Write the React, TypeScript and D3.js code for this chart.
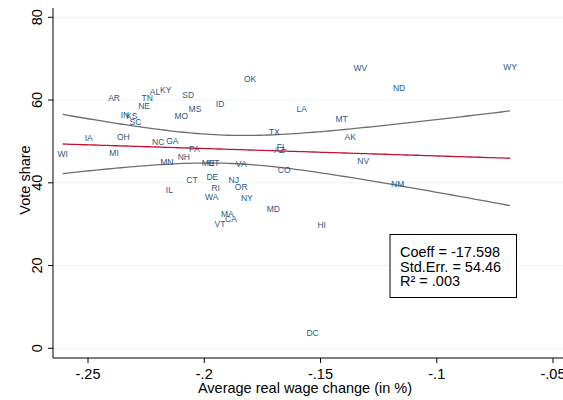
import { scaleLinear, line, mean, sum, extent, range } from "d3";

// state labels, x = average real wage change, y = vote share
const states = ["AR", "TN", "AL", "KY", "SD", "NE", "ID", "MS", "MO", "IN", "KS", "SC", "IA", "OH", "NC", "GA", "PA", "WI", "MI", "NH", "MN", "ME", "UT", "VA", "CT", "DE", "IL", "RI", "WA", "NJ", "OR", "NY", "MA", "CA", "VT", "MD", "OK", "WV", "WY", "ND", "LA", "MT", "TX", "AK", "FL", "AZ", "NV", "CO", "NM", "HI", "DC"];
const wageChange = [-0.2388, -0.2245, -0.2212, -0.2166, -0.2069, -0.2259, -0.1932, -0.204, -0.2099, -0.2341, -0.2312, -0.2296, -0.2497, -0.2348, -0.2198, -0.2137, -0.2043, -0.2609, -0.2388, -0.2088, -0.2161, -0.1983, -0.1959, -0.1841, -0.2053, -0.1965, -0.215, -0.1951, -0.1968, -0.1873, -0.1841, -0.1817, -0.1901, -0.1885, -0.1932, -0.1703, -0.1803, -0.1329, -0.0685, -0.1162, -0.1581, -0.1409, -0.1699, -0.1372, -0.1667, -0.1677, -0.1316, -0.1656, -0.1168, -0.1495, -0.1534];
const voteShare = [60.57, 60.57, 62.02, 62.43, 61.29, 58.63, 59.12, 57.84, 56.22, 56.39, 56.15, 54.77, 50.9, 51.14, 49.86, 50.18, 48.1, 47.03, 47.27, 46.24, 44.91, 44.86, 44.86, 44.47, 40.68, 41.47, 38.26, 38.82, 36.5, 40.68, 39.06, 36.33, 32.46, 31.25, 30.04, 33.67, 65.09, 67.82, 68.06, 62.99, 57.84, 55.42, 52.21, 51.07, 48.58, 47.94, 45.34, 43.09, 39.71, 29.87, 3.77];

const xTicks = [-0.25, -0.2, -0.15, -0.1, -0.05];
const xTickLabels = ["-.25", "-.2", "-.15", "-.1", "-.05"];
const yTicks = [0, 20, 40, 60, 80];
const statsLines = ["Coeff = -17.598", "Std.Err. = 54.46", "R² = .003"];

const W = 563;
const H = 400;
const font = "'Liberation Sans', Arial, Helvetica, sans-serif";

export default function App() {
    const left = 53;
    const top = 8;
    const bottom = 358;

    const x = scaleLinear().domain([-0.25, -0.05]).range([88, 553]);
    const y = scaleLinear().domain([0, 80]).range([348.3, 17.3]);

    // linear fit with 95% CI of the prediction mean
    const n = wageChange.length;
    const mx = mean(wageChange) as number;
    const my = mean(voteShare) as number;
    const sxx = sum(wageChange, (v) => (v - mx) ** 2);
    const sxy = sum(wageChange, (v, i) => (v - mx) * (voteShare[i] - my));
    const b = sxy / sxx;
    const a = my - b * mx;
    const rss = sum(wageChange, (v, i) => (voteShare[i] - (a + b * v)) ** 2);
    const s = Math.sqrt(rss / (n - 2));
    const tCrit = 2.0096;
    const [x0, x1] = extent(wageChange) as [number, number];
    const grid = range(0, 101).map((k) => x0 + ((x1 - x0) * k) / 100);
    const half = (v: number) => tCrit * s * Math.sqrt(1 / n + (v - mx) ** 2 / sxx);

    const fitPath = line<number>().x((v) => x(v)).y((v) => y(a + b * v))(grid) ?? "";
    const upperPath = line<number>().x((v) => x(v)).y((v) => y(a + b * v + half(v)))(grid) ?? "";
    const lowerPath = line<number>().x((v) => x(v)).y((v) => y(a + b * v - half(v)))(grid) ?? "";

    return (
        <div style={{ position: "fixed", left: 0, top: 0 }}>
            <svg width={W} height={H} style={{ display: "block", background: "#fff" }} fontFamily={font}>
                {/* grid */}
                {yTicks.map((t) => (
                    <line key={"g" + t} x1={left} x2={W} y1={y(t)} y2={y(t)} stroke="#eaf2f3" strokeWidth={1} />
                ))}

                {/* CI and fit */}
                <path d={upperPath} fill="none" stroke="#6e6e6e" strokeWidth={1.3} />
                <path d={lowerPath} fill="none" stroke="#6e6e6e" strokeWidth={1.3} />
                <path d={fitPath} fill="none" stroke="#c8102e" strokeWidth={1.3} />

                {/* state labels */}
                {states.map((st, i) => (
                    <text
                        key={st}
                        x={x(wageChange[i])}
                        y={y(voteShare[i])}
                        textAnchor="middle"
                        dominantBaseline="central"
                        fontSize={8.5}
                        fill="#2c5682"
                    >
                        {st}
                    </text>
                ))}

                {/* axes */}
                <line x1={left} x2={left} y1={top} y2={bottom} stroke="#000" strokeWidth={1} />
                <line x1={left} x2={W} y1={bottom} y2={bottom} stroke="#000" strokeWidth={1} />
                {yTicks.map((t) => (
                    <g key={"y" + t}>
                        <line x1={left - 5} x2={left} y1={y(t)} y2={y(t)} stroke="#000" />
                        <text
                            transform={`translate(${left - 11},${y(t)}) rotate(-90)`}
                            textAnchor="middle"
                            fontSize={14.5}
                            fill="#000"
                        >
                            {t}
                        </text>
                    </g>
                ))}
                {xTicks.map((t, i) => (
                    <g key={"x" + t}>
                        <line x1={x(t)} x2={x(t)} y1={bottom} y2={bottom + 5} stroke="#000" />
                        <text x={x(t)} y={bottom + 21} textAnchor="middle" fontSize={14.5} fill="#000">
                            {xTickLabels[i]}
                        </text>
                    </g>
                ))}
                <text x={305} y={393} textAnchor="middle" fontSize={14.5} fill="#000">
                    Average real wage change (in %)
                </text>
                <text transform="translate(30,180) rotate(-90)" textAnchor="middle" fontSize={14.5} fill="#000">
                    Vote share
                </text>

                {/* stats box */}
                <rect x={390} y={234.5} width={126.5} height={63} fill="#fff" stroke="#000" strokeWidth={1} />
                {statsLines.map((l, i) => (
                    <text key={l} x={400} y={257 + i * 14.5} fontSize={14.5} fill="#000">
                        {l}
                    </text>
                ))}
            </svg>
        </div>
    );
}
